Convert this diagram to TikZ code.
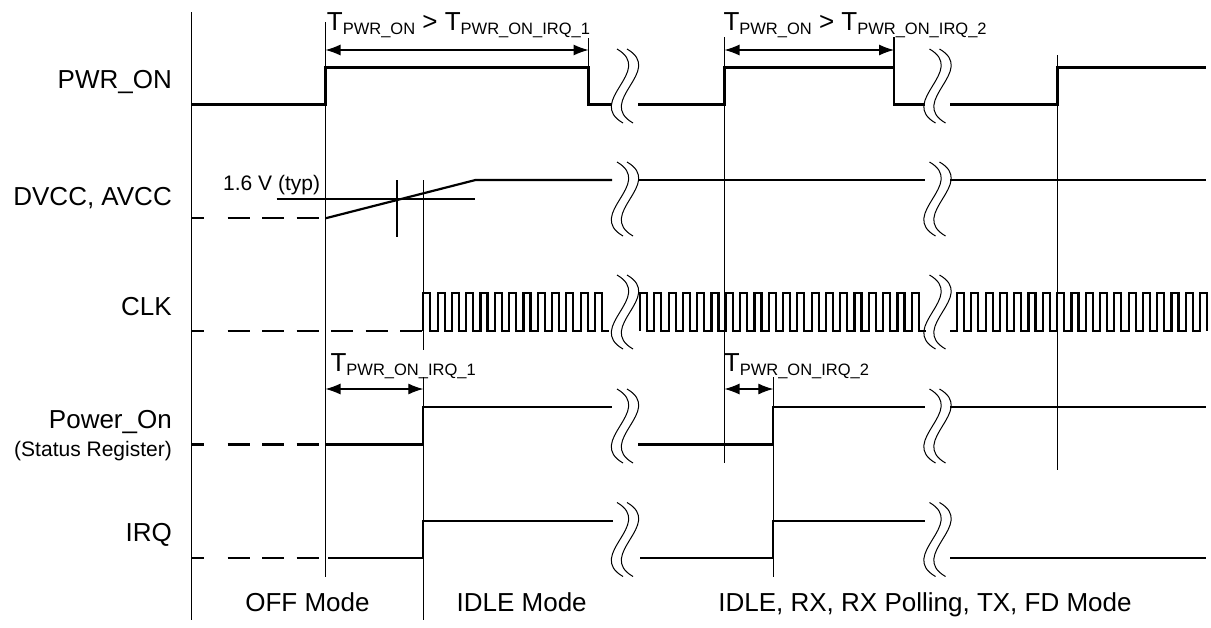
\documentclass[tikz,border=0pt]{standalone}
\usepackage{fontspec}
\setmainfont{Liberation Sans}
\usetikzlibrary{arrows.meta}
\newcommand{\Tlab}[1]{T\raisebox{-4pt}{\fontsize{16.5}{18}\selectfont #1}}
\newcommand{\brkmark}[2]{%
  \draw[brk] (#1-8,#2-37) .. controls (#1+30,#2-15) and (#1-40,#2+15) .. (#1-2,#2+37);
  \draw[brk] (#1+2,#2-37) .. controls (#1+40,#2-15) and (#1-30,#2+15) .. (#1+8,#2+37);
}
\tikzset{
  sig/.style={line width=2.2pt, line join=miter},
  lead/.style={sig, dash pattern={on 12pt off 24pt on 22pt off 12.5pt on 22pt off 12.5pt on 22pt off 12.5pt on 22pt off 12.5pt on 22pt off 12.5pt on 22pt off 12.5pt}},
  mk/.style={line width=1.1pt},
  brk/.style={line width=1pt},
  dim/.style={line width=1.1pt, {Latex[length=15pt,width=11pt]}-{Latex[length=15pt,width=11pt]}},
  lbl/.style={font=\fontsize{26}{30}\selectfont, inner sep=0pt, anchor=base east},
  sublbl/.style={font=\fontsize{21}{24}\selectfont, inner sep=0pt, anchor=base east},
  small/.style={font=\fontsize{21}{24}\selectfont, inner sep=0pt, anchor=base west},
  tlbl/.style={font=\fontsize{26}{30}\selectfont, inner sep=0pt, anchor=base west},
  mode/.style={font=\fontsize{26}{30}\selectfont, inner sep=0pt, anchor=base}
}
\begin{document}
\begin{tikzpicture}[x=1pt,y=-1pt]
\useasboundingbox (0,0) rectangle (1211,627);

% ---- row labels
\node[lbl] (lpwr) at (172,88.3) {PWR\_ON};
\node[lbl] (ldvcc) at (172,205) {DVCC, AVCC};
\node[lbl] (lclk) at (172,315) {CLK};
\node[lbl] (lpo) at (172,428) {Power\_On};
\node[sublbl] (lsr) at (172,456.7) {(Status Register)};
\node[lbl] (lirq) at (172,541.7) {IRQ};

% ---- mode labels
\node[mode] (moff) at (307.5,611.7) {OFF Mode};
\node[mode] (midle) at (521.7,611.7) {IDLE Mode};
\node[mode] (mall) at (925,611.7) {IDLE, RX, RX Polling, TX, FD Mode};

% ---- vertical markers
\draw[mk] (191.5,12) -- (191.5,620);
\draw[mk] (325.5,22) -- (325.5,577);
\draw[mk] (588.5,38) -- (588.5,67.5);
\draw[mk] (423.3,180) -- (423.3,350);
\draw[mk] (423.3,377) -- (423.3,620);
\draw[mk] (397,180) -- (397,237);
\draw[mk] (724.5,37) -- (724.5,463);
\draw[mk] (894,37) -- (894,67.5);
\draw[mk] (773.3,377) -- (773.3,577);
\draw[mk] (1057.5,55) -- (1057.5,470);

% ---- timing labels and arrows
\node[tlbl] (t1) at (326.7,30) {\Tlab{PWR\_ON} > \Tlab{PWR\_ON\_IRQ\_1}};
\node[tlbl] (t2) at (723.3,30) {\Tlab{PWR\_ON} > \Tlab{PWR\_ON\_IRQ\_2}};
\node[tlbl] (t3) at (330.4,371) {\Tlab{PWR\_ON\_IRQ\_1}};
\node[tlbl] (t4) at (723.7,371) {\Tlab{PWR\_ON\_IRQ\_2}};
\coordinate (a1l) at (325.5,50); \coordinate (a1r) at (588.5,50);
\coordinate (a2l) at (724.5,50); \coordinate (a2r) at (894,50);
\coordinate (a3l) at (325.5,389); \coordinate (a3r) at (423.3,389);
\coordinate (a4l) at (724.5,389); \coordinate (a4r) at (773.3,389);
\draw[dim] (a1l) -- (a1r);
\draw[dim] (a2l) -- (a2r);
\draw[dim] (a3l) -- (a3r);
\draw[dim] (a4l) -- (a4r);

% ---- PWR_ON
\draw[sig] (191.5,104.5) -- (325.5,104.5) -- (325.5,67.5) -- (588.5,67.5) -- (588.5,104.5) -- (612,104.5);
\draw[sig] (638,104.5) -- (724.5,104.5) -- (724.5,67.5) -- (894,67.5) -- (894,104.5) -- (925,104.5);
\draw[sig] (950,104.5) -- (1057.5,104.5) -- (1057.5,67.5) -- (1206,67.5);

% ---- DVCC, AVCC
\draw[lead] (191.5,218.3) -- (325.5,218.3);
\draw[sig] (325.5,218.3) -- (475.5,180) -- (612,180);
\draw[sig] (638,180) -- (925,180);
\draw[sig] (950,180) -- (1206,180);
\draw[mk] (276.7,199) -- (475,199);
\node[small] (vth) at (223,190.7) {1.6 V (typ)};

% ---- CLK
\draw[lead] (191.5,330.7) -- (423.3,330.7);
\draw[sig] (423.3,330.7) \foreach \k in {1,...,13} { -- ++(0,-37.4) -- ++(7,0) -- ++(0,37.4) -- ++(7.3,0) };
\draw[sig] (640,330.7) \foreach \k in {1,...,20} { -- ++(0,-37.4) -- ++(7,0) -- ++(0,37.4) -- ++(7.3,0) };
\draw[sig] (950,330.7) -- (957,330.7) \foreach \k in {1,...,17} { -- ++(0,-37.4) -- ++(7,0) -- ++(0,37.4) -- ++(7.3,0) } -- ++(0,-37.4) -- ++(6.7,0) -- ++(0,37.4);

% ---- Power_On
\draw[lead] (191.5,444.5) -- (325.5,444.5);
\draw[sig] (325.5,444.5) -- (423.3,444.5) -- (423.3,407) -- (612,407);
\draw[sig] (638,444.5) -- (773.3,444.5) -- (773.3,407) -- (925,407);
\draw[sig] (950,407) -- (1206,407);

% ---- IRQ
\draw[lead] (191.5,558.3) -- (325.5,558.3);
\draw[sig] (328,558.3) -- (423.3,558.3) -- (423.3,520.7) -- (613,520.7);
\draw[sig] (640,558.3) -- (773.3,558.3) -- (773.3,520.7) -- (925,520.7);
\draw[sig] (950,558.3) -- (1206,558.3);

% ---- breaks
\foreach \cy in {86,199,312,426,539.5} {
  \brkmark{625}{\cy}
  \brkmark{937.5}{\cy}
}
\end{tikzpicture}
\end{document}
